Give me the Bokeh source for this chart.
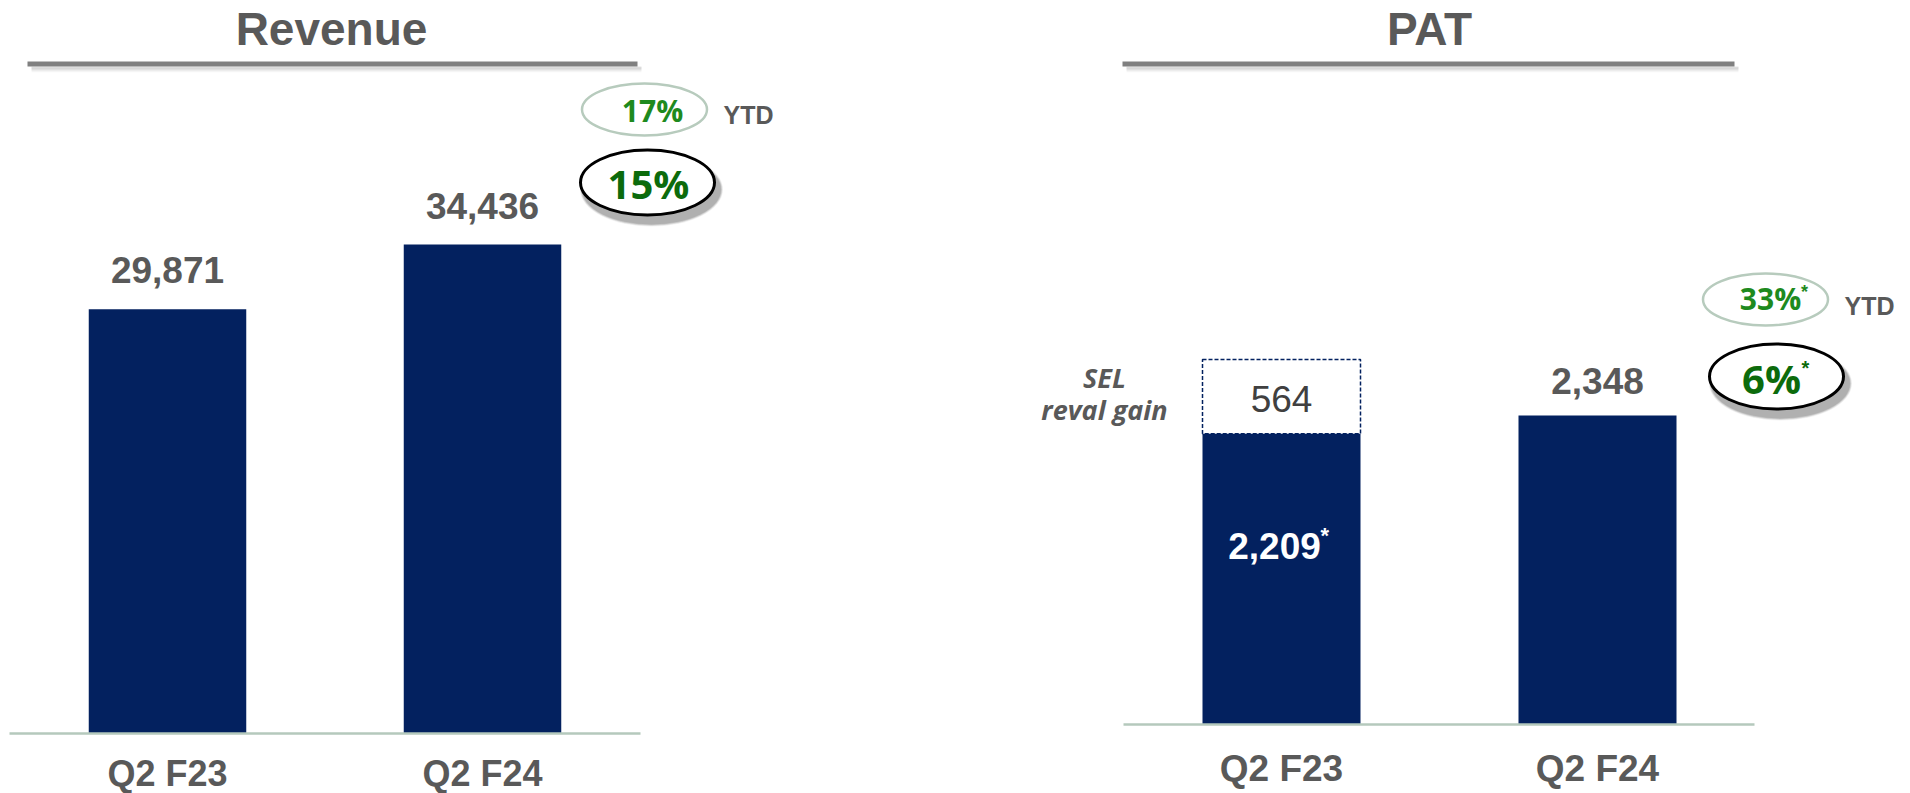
from bokeh.plotting import figure
from bokeh.layouts import row
from bokeh.models import Range1d
from bokeh.core.properties import value
from bokeh.embed import file_html
from bokeh.resources import INLINE

# ---------------- data ----------------
categories = ["Q2 F23", "Q2 F24"]
revenue = [29871, 34436]
pat_core = [2209, 2348]          # PAT excluding SEL reval gain (marked *)
sel_reval_gain = [564, 0]        # SEL revaluation gain on top of Q2 F23 PAT
revenue_growth_qtr = "15%"
revenue_growth_ytd = "17%"
pat_growth_qtr = "6%"
pat_growth_ytd = "33%"

# ---------------- styles ----------------
NAVY = "#03215F"
TXT = "#595959"
GREEN_LIGHT = "#1E8A1E"
GREEN_DARK = "#0C6B0C"
ELL_LIGHT = "#B7CBBD"
BASE = "#B5C9BC"
ARIAL = "Liberation Sans"
GOTHIC = "Open Sans"
H = 793
PAGE_TOP = 0
PAGE_BOTTOM = PAGE_TOP + H


def make_fig(left_px, width, unit_px, first_center_px, baseline_px, px_per_value):
    x_start = -(first_center_px - left_px) / unit_px
    x_end = x_start + width / unit_px
    upv = 1.0 / px_per_value
    y_start = -(PAGE_BOTTOM - baseline_px) * upv
    y_end = y_start + H * upv
    p = figure(width=width, height=H, x_range=Range1d(x_start, x_end),
               y_range=Range1d(y_start, y_end), output_backend="svg",
               toolbar_location=None, min_border=0,
               x_axis_location=None, y_axis_location=None)
    p.grid.visible = False
    p.outline_line_color = None
    p.background_fill_color = "white"
    p.border_fill_color = "white"
    p.extra_x_ranges = {"px": Range1d(left_px, left_px + width)}
    p.extra_y_ranges = {"px": Range1d(0, H)}
    return p


def Y(ref_y):
    return PAGE_BOTTOM - ref_y


def ptext(p, x, y, text, size, color, font=ARIAL, style="bold", align="center"):
    p.text(x=[x], y=[Y(y)], text=[text], x_range_name="px", y_range_name="px",
           text_font=value(font), text_font_size=f"{size}px", text_font_style=style,
           text_color=color, text_align=align, text_baseline="middle")


def header(p, cx, x0, x1, title):
    ptext(p, cx, 28, title, 46, TXT, font=ARIAL)
    for i, a in enumerate([0.10, 0.08, 0.06, 0.04, 0.02]):
        p.segment(x0=[x0 + 4], y0=[Y(67 + i)], x1=[x1 + 4], y1=[Y(67 + i)],
                  x_range_name="px", y_range_name="px", line_color="black",
                  line_alpha=a, line_width=2)
    p.segment(x0=[x0], y0=[Y(63.5)], x1=[x1], y1=[Y(63.5)], x_range_name="px",
              y_range_name="px", line_color="#808080", line_width=5)


def badge_light(p, cx, cy, text, tx, ty, ytd_x, ytd_y, star=None):
    p.ellipse(x=[cx], y=[Y(cy)], width=125, height=52, x_range_name="px",
              y_range_name="px", fill_color="white", line_color=ELL_LIGHT, line_width=2.5)
    ptext(p, tx, ty, text, 30, GREEN_LIGHT, font=GOTHIC)
    if star:
        ptext(p, star[0], star[1], "*", 18, GREEN_LIGHT, font=ARIAL)
    ptext(p, ytd_x, ytd_y, "YTD", 25, TXT)


def badge_dark(p, cx, cy, text, tx, ty, star=None):
    for i, a in enumerate([0.05, 0.06, 0.07, 0.08, 0.09]):
        d = 9 - i
        p.ellipse(x=[cx + 4], y=[Y(cy + 7)], width=134 + d, height=65 + d,
                  x_range_name="px", y_range_name="px", fill_color="black",
                  fill_alpha=a, line_color=None)
    p.ellipse(x=[cx], y=[Y(cy)], width=134, height=65, x_range_name="px",
              y_range_name="px", fill_color="white", line_color="black", line_width=3)
    ptext(p, tx, ty, text, 40, GREEN_DARK, font=GOTHIC)
    if star:
        ptext(p, star[0], star[1], "*", 20, GREEN_DARK, font=ARIAL)


idx = list(range(len(categories)))

# ---------------- Revenue ----------------
p1 = make_fig(0, 960, 315, 167, 732.5, 488.5 / 34436)
p1.vbar(x=idx, top=revenue, width=0.5, fill_color=NAVY, line_color=None)
p1.segment(x0=[9], y0=[Y(733)], x1=[640], y1=[Y(733)], x_range_name="px",
           y_range_name="px", line_color=BASE, line_width=2.5)
p1.text(x=idx, y=revenue, text=[f"{v:,}" for v in revenue], y_offset=-39,
        text_font=value(ARIAL), text_font_size="37px", text_font_style="bold",
        text_color=TXT, text_align="center", text_baseline="middle")
p1.text(x=idx, y=[0] * len(idx), text=categories, y_offset=40,
        text_font=value(ARIAL), text_font_size="36px", text_font_style="bold",
        text_color=TXT, text_align="center", text_baseline="middle")
header(p1, 331, 27, 637, "Revenue")
badge_light(p1, 644, 109, revenue_growth_ytd, 652, 110, 748, 114)
badge_dark(p1, 647, 182, revenue_growth_qtr, 648, 183)

# ---------------- PAT ----------------
p2 = make_fig(960, 950, 316, 1281, 724, 309 / 2348)
p2.vbar(x=idx, top=pat_core, width=0.5, fill_color=NAVY, line_color=None)
gain_idx = [i for i in idx if sel_reval_gain[i] > 0]
p2.vbar(x=gain_idx, bottom=[pat_core[i] for i in gain_idx],
        top=[pat_core[i] + sel_reval_gain[i] for i in gain_idx], width=0.5,
        fill_color=None, line_color=NAVY, line_dash="4 2", line_width=1.5)
p2.segment(x0=[1123], y0=[Y(724)], x1=[1754], y1=[Y(724)], x_range_name="px",
           y_range_name="px", line_color=BASE, line_width=2.5)
# gain value inside dashed box
p2.text(x=gain_idx, y=[pat_core[i] + sel_reval_gain[i] / 2 for i in gain_idx],
        text=[f"{sel_reval_gain[i]:,}" for i in gain_idx], y_offset=2,
        text_font=value(ARIAL), text_font_size="37px", text_font_style="normal",
        text_color="#404040", text_align="center", text_baseline="middle")
# core value inside the bar (for the bar with a gain on top)
p2.text(x=gain_idx, y=[pat_core[i] for i in gain_idx],
        text=[f"{pat_core[i]:,}" for i in gain_idx], y_offset=112, x_offset=-7,
        text_font=value(ARIAL), text_font_size="37px", text_font_style="bold",
        text_color="white", text_align="center", text_baseline="middle")
p2.text(x=gain_idx, y=[pat_core[i] for i in gain_idx], text=["*"] * len(gain_idx),
        y_offset=102, x_offset=39,
        text_font=value(ARIAL), text_font_size="22px", text_font_style="bold",
        text_color="white", text_align="left", text_baseline="middle")
# value above the other bar(s)
plain_idx = [i for i in idx if sel_reval_gain[i] == 0]
p2.text(x=plain_idx, y=[pat_core[i] for i in plain_idx],
        text=[f"{pat_core[i]:,}" for i in plain_idx], y_offset=-35,
        text_font=value(ARIAL), text_font_size="37px", text_font_style="bold",
        text_color=TXT, text_align="center", text_baseline="middle")
p2.text(x=idx, y=[0] * len(idx), text=categories, y_offset=44,
        text_font=value(ARIAL), text_font_size="37px", text_font_style="bold",
        text_color=TXT, text_align="center", text_baseline="middle")
ptext(p2, 1104, 377, "SEL", 27, TXT, font=GOTHIC, style="bold italic")
ptext(p2, 1104, 409, "reval gain", 27, TXT, font=GOTHIC, style="bold italic")
header(p2, 1429, 1122, 1734, "PAT")
badge_light(p2, 1765, 299, pat_growth_ytd, 1770, 298, 1869, 305, star=(1804, 291))
badge_dark(p2, 1776, 376, pat_growth_qtr, 1771, 378, star=(1805, 367))

layout = row(p1, p2, spacing=0)
open("out.html", "w").write(file_html(layout, INLINE))
